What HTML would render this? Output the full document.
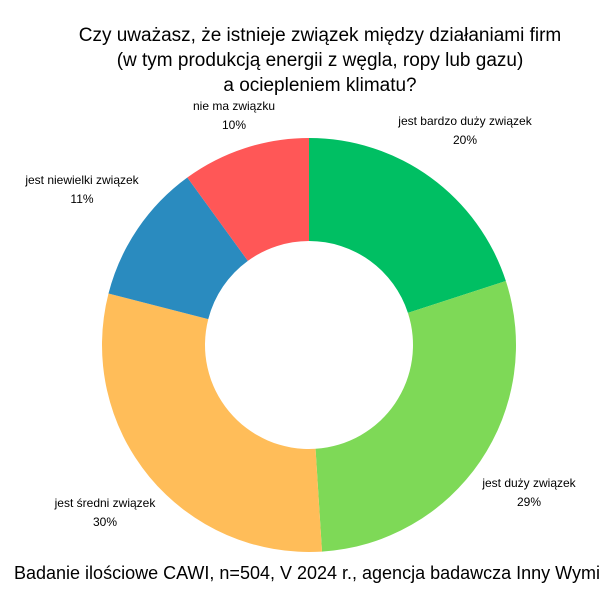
<!DOCTYPE html>
<html><head><meta charset="utf-8"><style>
body{margin:0;background:#fff;width:600px;height:600px;overflow:hidden;font-family:"Liberation Sans",sans-serif;}
</style></head><body>
<svg width="600" height="600">
<g id="title" font-size="19" fill="#000" text-anchor="middle">
<text x="320" y="41">Czy uważasz, że istnieje związek między działaniami firm</text>
<text x="320" y="66">(w tym produkcją energii z węgla, ropy lub gazu)</text>
<text x="320" y="91">a ociepleniem klimatu?</text>
</g>
<g id="slices"></g>
<g id="labels" font-size="12" fill="#000" text-anchor="middle"></g>
<text x="315" y="579" font-size="18" text-anchor="middle">Badanie ilościowe CAWI, n=504, V 2024 r., agencja badawcza Inny Wymiar</text>
</svg>
<script>
const categories=["jest bardzo duży związek","jest duży związek","jest średni związek","jest niewielki związek","nie ma związku"];
const values=[20,29,30,11,10];
const valueLabels=["20%","29%","30%","11%","10%"];
const colors=["#00BF63","#7ED957","#FFBD59","#2A8BBF","#FF5757"];
const labelPos=[[465,125],[529,487],[105,507],[82,184],[234,110]];
const cx=309,cy=345,R=207,r=104;
const ns="http://www.w3.org/2000/svg";
const sg=document.getElementById('slices'),lg=document.getElementById('labels');
const total=values.reduce((a,b)=>a+b,0);
let a0=0;
function pt(a,rad){return [cx+rad*Math.sin(a),cy-rad*Math.cos(a)];}
values.forEach((v,i)=>{
 const a1=a0+v/total*2*Math.PI;
 const large=(a1-a0)>Math.PI?1:0;
 const p1=pt(a0,R),p2=pt(a1,R),p3=pt(a1,r),p4=pt(a0,r);
 const p=document.createElementNS(ns,'path');
 p.setAttribute('d',`M${p1[0]},${p1[1]}A${R},${R} 0 ${large} 1 ${p2[0]},${p2[1]}L${p3[0]},${p3[1]}A${r},${r} 0 ${large} 0 ${p4[0]},${p4[1]}Z`);
 p.setAttribute('fill',colors[i]);
 
 
 sg.appendChild(p);
 const t=document.createElementNS(ns,'text');
 t.setAttribute('x',labelPos[i][0]);t.setAttribute('y',labelPos[i][1]);
 
 
 t.textContent=categories[i];
 lg.appendChild(t);
 const t2=document.createElementNS(ns,'text');
 t2.setAttribute('x',labelPos[i][0]);t2.setAttribute('y',labelPos[i][1]+19);
 
 
 t2.textContent=valueLabels[i];
 lg.appendChild(t2);
 a0=a1;
});
</script>
</body></html>
